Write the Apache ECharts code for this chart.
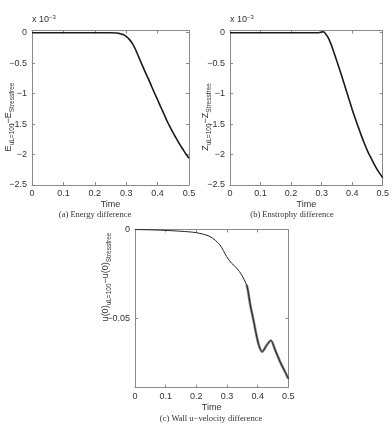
<!DOCTYPE html>
<html>
<head>
<meta charset="utf-8">
<script src="https://cdn.jsdelivr.net/npm/echarts@6/dist/echarts.min.js"></script>
<style>
html,body{margin:0;padding:0;background:#fff;}
#chart{width:392px;height:426px;}
</style>
</head>
<body>
<div id="chart"></div>
<script>
// ---- data (energy & enstrophy values are in units of 1e-3) ----
var timeE = [0, 0.05, 0.1, 0.15, 0.2, 0.25, 0.27, 0.28, 0.29, 0.30, 0.31, 0.32, 0.33, 0.34, 0.35, 0.36, 0.37, 0.38, 0.39, 0.40, 0.41, 0.42, 0.43, 0.44, 0.45, 0.46, 0.47, 0.48, 0.49, 0.50];
var energyDiff = [0, 0, 0, 0, 0, 0, -0.005, -0.015, -0.03, -0.06, -0.11, -0.18, -0.28, -0.40, -0.52, -0.64, -0.75, -0.87, -0.99, -1.10, -1.22, -1.33, -1.45, -1.55, -1.65, -1.74, -1.83, -1.91, -1.99, -2.06];

var timeZ = [0, 0.05, 0.1, 0.15, 0.2, 0.25, 0.29, 0.30, 0.305, 0.31, 0.32, 0.33, 0.34, 0.35, 0.36, 0.37, 0.38, 0.39, 0.40, 0.41, 0.42, 0.43, 0.44, 0.45, 0.46, 0.47, 0.48, 0.49, 0.50];
var enstrophyDiff = [0, 0, 0, 0, 0, 0, 0, 0.01, 0.015, 0.0, -0.07, -0.18, -0.32, -0.47, -0.62, -0.78, -0.94, -1.10, -1.26, -1.41, -1.55, -1.69, -1.82, -1.94, -2.04, -2.14, -2.23, -2.31, -2.38];

var timeU = [0, 0.05, 0.1, 0.15, 0.2, 0.245, 0.277, 0.299, 0.315, 0.332, 0.348, 0.364, 0.368, 0.376, 0.386, 0.402, 0.415, 0.43, 0.443, 0.457, 0.473, 0.489, 0.5];
var uDiff = [0, -0.0002, -0.0005, -0.001, -0.0018, -0.004, -0.0087, -0.0153, -0.019, -0.0218, -0.0256, -0.0312, -0.034, -0.0425, -0.0507, -0.064, -0.0688, -0.065, -0.0625, -0.0678, -0.0744, -0.080, -0.084];

var xTicks = [0, 0.1, 0.2, 0.3, 0.4, 0.5];
var yTicksE = [-2.5, -2, -1.5, -1, -0.5, 0];
var yTicksU = [-0.05, 0];

var captions = ['(a) Energy difference', '(b) Enstrophy difference', '(c) Wall u\u2212velocity difference'];

// ---- chart ----
var axisColor = '#8a8a8a';
var textColor = '#333';
var font = 'Liberation Sans, Arial, sans-serif';
var serif = 'Liberation Serif, DejaVu Serif, serif';

function pairs(xs, ys) { return xs.map(function (x, i) { return [x, ys[i]]; }); }

function xAx(grid, show) {
  return {
    type: 'value', gridIndex: grid, min: 0, max: 0.5, position: show ? 'bottom' : 'top',
    axisLine: { show: true, onZero: false, lineStyle: { color: axisColor, width: 1 } },
    axisTick: { show: true, inside: true, length: 3, customValues: xTicks, lineStyle: { color: axisColor } },
    axisLabel: { show: show, customValues: xTicks, color: textColor, fontSize: 9, fontFamily: font, margin: 4,
      formatter: function (v) { return String(v); } },
    splitLine: { show: false },
    name: show ? 'Time' : '', nameLocation: 'middle', nameGap: 15,
    nameTextStyle: { color: textColor, fontSize: 9, fontFamily: font }
  };
}
function yAx(grid, show, min, max, ticks) {
  return {
    type: 'value', gridIndex: grid, min: min, max: max, position: show ? 'left' : 'right',
    axisLine: { show: true, onZero: false, lineStyle: { color: axisColor, width: 1 } },
    axisTick: { show: true, inside: true, length: 3, customValues: ticks, lineStyle: { color: axisColor } },
    axisLabel: { show: show, customValues: ticks, color: textColor, fontSize: 9, fontFamily: font, margin: 5,
      formatter: function (v) { return v < 0 ? '\u2212' + String(-v) : String(v); } },
    splitLine: { show: false }
  };
}

var chart = echarts.init(document.getElementById('chart'), null, { renderer: 'canvas' });

var lineStyleMain = { color: '#1a1a1a', width: 1.6 };

var option = {
  animation: false,
  backgroundColor: '#fff',
  grid: [
    { left: 32, top: 30.5, width: 157, height: 154.5, show: false },
    { left: 230, top: 30.5, width: 156.5, height: 154.5, show: false },
    { left: 135, top: 229.5, width: 153.3, height: 158.2, show: false }
  ],
  xAxis: [xAx(0, true), xAx(0, false), xAx(1, true), xAx(1, false), xAx(2, true), xAx(2, false)],
  yAxis: [
    yAx(0, true, -2.5, 0.036, yTicksE), yAx(0, false, -2.5, 0.036, yTicksE),
    yAx(1, true, -2.5, 0.036, yTicksE), yAx(1, false, -2.5, 0.036, yTicksE),
    yAx(2, true, -0.0891, 0, yTicksU), yAx(2, false, -0.0891, 0, yTicksU)
  ],
  series: [
    { type: 'line', xAxisIndex: 0, yAxisIndex: 0, data: pairs(timeE, energyDiff), showSymbol: false, smooth: 0.3, lineStyle: lineStyleMain },
    { type: 'line', xAxisIndex: 2, yAxisIndex: 2, data: pairs(timeZ, enstrophyDiff), showSymbol: false, smooth: 0.3, lineStyle: lineStyleMain },
    { type: 'line', xAxisIndex: 4, yAxisIndex: 4, data: pairs(timeU, uDiff).filter(function (p) { return p[0] >= 0.364; }), showSymbol: false, smooth: 0.3,
      lineStyle: { color: '#333', width: 2.6, opacity: 0.6 } },
    { type: 'line', xAxisIndex: 4, yAxisIndex: 4, data: pairs(timeU, uDiff), showSymbol: false, smooth: 0.3, lineStyle: { color: '#222', width: 1 } }
  ],
  graphic: [
    { type: 'text', left: 32, top: 14, style: { text: '{n|x 10}{s|\u22123}',
      rich: { n: { fontSize: 9, fontFamily: font, fill: textColor }, s: { fontSize: 6, fontFamily: font, fill: textColor, padding: [0, 0, 6, 0] } } } },
    { type: 'text', left: 230, top: 14, style: { text: '{n|x 10}{s|\u22123}',
      rich: { n: { fontSize: 9, fontFamily: font, fill: textColor }, s: { fontSize: 6, fontFamily: font, fill: textColor, padding: [0, 0, 6, 0] } } } },
    { type: 'text', x: 9, y: 117, rotation: Math.PI / 2, style: { text: '{m|E}{s|uL=100}{m|\u2212E}{s|Stressfree}', align: 'center', verticalAlign: 'middle',
      rich: { m: { fontSize: 9, fontFamily: font, fill: textColor }, s: { fontSize: 6.5, fontFamily: font, fill: textColor, padding: [7, 0, 0, 0] } } } },
    { type: 'text', x: 206, y: 117, rotation: Math.PI / 2, style: { text: '{m|Z}{s|uL=100}{m|\u2212Z}{s|Stressfree}', align: 'center', verticalAlign: 'middle',
      rich: { m: { fontSize: 9, fontFamily: font, fill: textColor }, s: { fontSize: 6.5, fontFamily: font, fill: textColor, padding: [7, 0, 0, 0] } } } },
    { type: 'text', x: 106, y: 277, rotation: Math.PI / 2, style: { text: '{m|u(0)}{s|uL=100}{m|\u2212u(0)}{s|Stressfree}', align: 'center', verticalAlign: 'middle',
      rich: { m: { fontSize: 9, fontFamily: font, fill: textColor }, s: { fontSize: 6.5, fontFamily: font, fill: textColor, padding: [7, 0, 0, 0] } } } },
    { type: 'text', x: 95, y: 215, style: { text: captions[0], align: 'center', verticalAlign: 'middle', fontSize: 8.5, fontFamily: serif, fill: textColor } },
    { type: 'text', x: 292, y: 215, style: { text: captions[1], align: 'center', verticalAlign: 'middle', fontSize: 8.5, fontFamily: serif, fill: textColor } },
    { type: 'text', x: 211, y: 419, style: { text: captions[2], align: 'center', verticalAlign: 'middle', fontSize: 8.5, fontFamily: serif, fill: textColor } }
  ]
};
chart.setOption(option);
</script>
</body>
</html>
